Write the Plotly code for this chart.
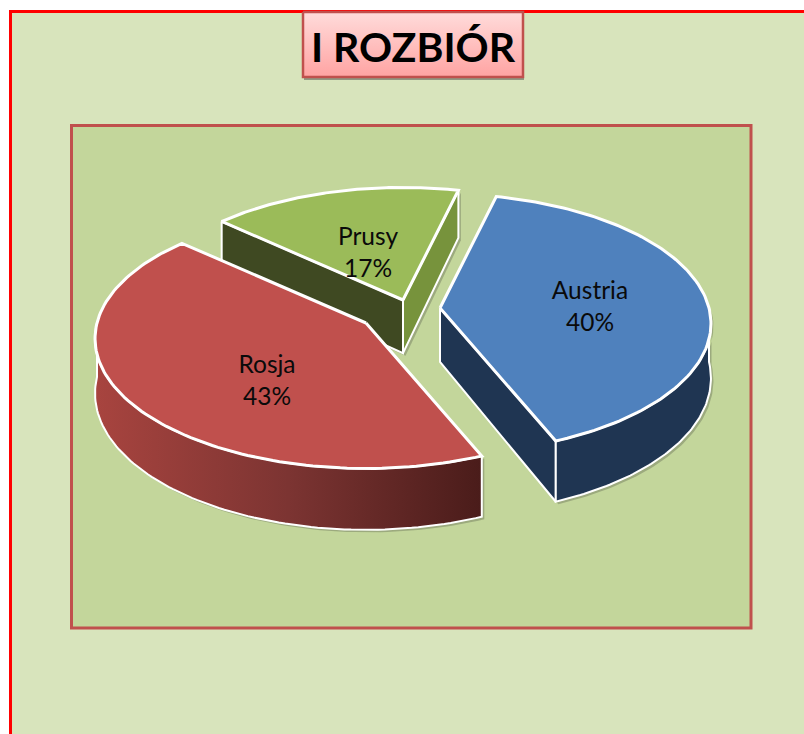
import numpy as np
import plotly.graph_objects as go

# chart data
categories = ["Austria", "Rosja", "Prusy"]
values = [40, 43, 17]

# look of the 3d pie (no 3d pie in plotly, so project the slices by hand)
top_colors = ["#4F81BD", "#C0504D", "#9BBB59"]
wall_colors = ["#1F3552", "#C0504D", "#77933C"]
cut_colors = ["#1F3552", "#C0504D", "#3F4922"]
apex_x = [440, 366, 403]
apex_y = [308, 323, 300]
slice_scale = [1.0, 1.0, 0.985]
label_x = [590, 267, 368]
label_y = [308.5, 382.5, 254.5]
RX, RY, DEPTH = 269, 128, 54
PERSP = 0.12
START_ANGLE = 13.5


def project(i, theta, drop=False):
    t = np.radians(theta)
    w = slice_scale[i] / (1 + PERSP * np.cos(t))
    x = apex_x[i] + RX * np.sin(t) * w
    y = apex_y[i] - RY * np.cos(t) * w
    if drop:
        y = y + DEPTH * w
    return x, y


def apex(i, drop=False):
    y = apex_y[i] + (DEPTH * slice_scale[i] if drop else 0)
    return np.array([apex_x[i]]), np.array([y])


def poly(fig, x, y, fill, line="white", width=2.5, grad=None):
    kw = {"fillgradient": grad} if grad else {"fillcolor": fill}
    fig.add_trace(go.Scatter(x=x, y=y, mode="lines", fill="toself", hoverinfo="skip",
                             line=dict(color=line, width=width), showlegend=False, **kw))


def wall(fig, i, x0, y0, x1, y1, fill, grad=None):
    xs = np.concatenate([x0, x1[::-1], x0[:1]])
    ys = np.concatenate([y0, y1[::-1], y0[:1]])
    poly(fig, xs + 2.5, ys + 2.5, "rgba(40,40,40,0.25)", line="rgba(0,0,0,0)", width=0)
    poly(fig, xs, ys, fill, width=2, grad=grad)


fig = go.Figure()

# title box
box_x = [303, 523, 523, 303, 303]
box_y = [12, 12, 77, 77, 12]
poly(fig, [x + 1 for x in box_x], [y + 3 for y in box_y], "rgba(60,60,60,0.45)", line="rgba(0,0,0,0)", width=0)
poly(fig, box_x, box_y, "#FFC0C0", line="#C0504D", width=2.5,
     grad=dict(type="vertical", colorscale=[[0, "#FFA3A2"], [1, "#FFDCDB"]]))

total = sum(values)
starts = [START_ANGLE + 360 * sum(values[:i]) / total for i in range(len(values))]
ends = [START_ANGLE + 360 * sum(values[:i + 1]) / total for i in range(len(values))]

# back to front so that the red slice lies over the green one
for i in [2, 0, 1]:
    a, b = starts[i], ends[i]
    if i == 2:
        # green slice: both cut faces show
        xa, ya = apex(i)
        xb, yb = apex(i, True)
        px, py = project(i, np.array([a]))
        qx, qy = project(i, np.array([a]), True)
        wall(fig, i, np.r_[px, xa], np.r_[py, ya], np.r_[qx, xb], np.r_[qy, yb], cut_colors[i])
        px, py = project(i, np.array([b]))
        qx, qy = project(i, np.array([b]), True)
        wall(fig, i, np.r_[xa, px], np.r_[ya, py], np.r_[xb, qx], np.r_[yb, qy], wall_colors[i])
    if i == 0:
        # blue slice: cut face towards the viewer
        xa, ya = apex(i)
        xb, yb = apex(i, True)
        px, py = project(i, np.array([b]))
        qx, qy = project(i, np.array([b]), True)
        wall(fig, i, np.r_[xa, px], np.r_[ya, py], np.r_[xb, qx], np.r_[yb, qy], cut_colors[i])
    # outer wall, front half only
    lo, hi = max(a, 90), min(b, 270)
    if hi > lo:
        th = np.linspace(lo, hi, 90)
        x0, y0 = project(i, th)
        x1, y1 = project(i, th, True)
        grad = None
        if i == 1:
            grad = dict(type="horizontal", colorscale=[[0, "#A8443F"], [0.5, "#7C3432"], [1, "#4A1C1A"]])
        wall(fig, i, x0, y0, x1, y1, wall_colors[i], grad=grad)
    # top face
    th = np.linspace(a, b, 120)
    x0, y0 = project(i, th)
    xa, ya = apex(i)
    poly(fig, np.r_[xa, x0, xa], np.r_[ya, y0, ya], top_colors[i], width=3)

# labels
fig.add_trace(go.Scatter(
    x=label_x, y=label_y, mode="text", hoverinfo="skip", showlegend=False,
    text=[f"{c}<br>{v}%" for c, v in zip(categories, values)],
    textfont=dict(family="Lato", size=24.5, color="#0A0A0A"),
))

fig.add_annotation(x=413, y=46, text="<b>I ROZBIÓR</b>", showarrow=False,
                   font=dict(family="Lato", size=41, color="#000000"))

# page and plot frames
fig.update_layout(
    width=804, height=734, margin=dict(l=0, r=0, t=0, b=0),
    paper_bgcolor="white", plot_bgcolor="white",
    xaxis=dict(range=[0, 804], visible=False, fixedrange=True),
    yaxis=dict(range=[734, 0], visible=False, fixedrange=True),
    shapes=[
        dict(type="rect", x0=10.5, y0=11.5, x1=830, y1=760, layer="below",
             fillcolor="#D8E4BC", line=dict(color="#FF0000", width=3)),
        dict(type="rect", x0=71.5, y0=125.5, x1=751, y1=628, layer="below",
             fillcolor="#C3D69B", line=dict(color="#C0504D", width=3)),
    ],
)

fig.write_html("out.html", config={"displayModeBar": False},
               post_script="document.body.style.margin='0';")
